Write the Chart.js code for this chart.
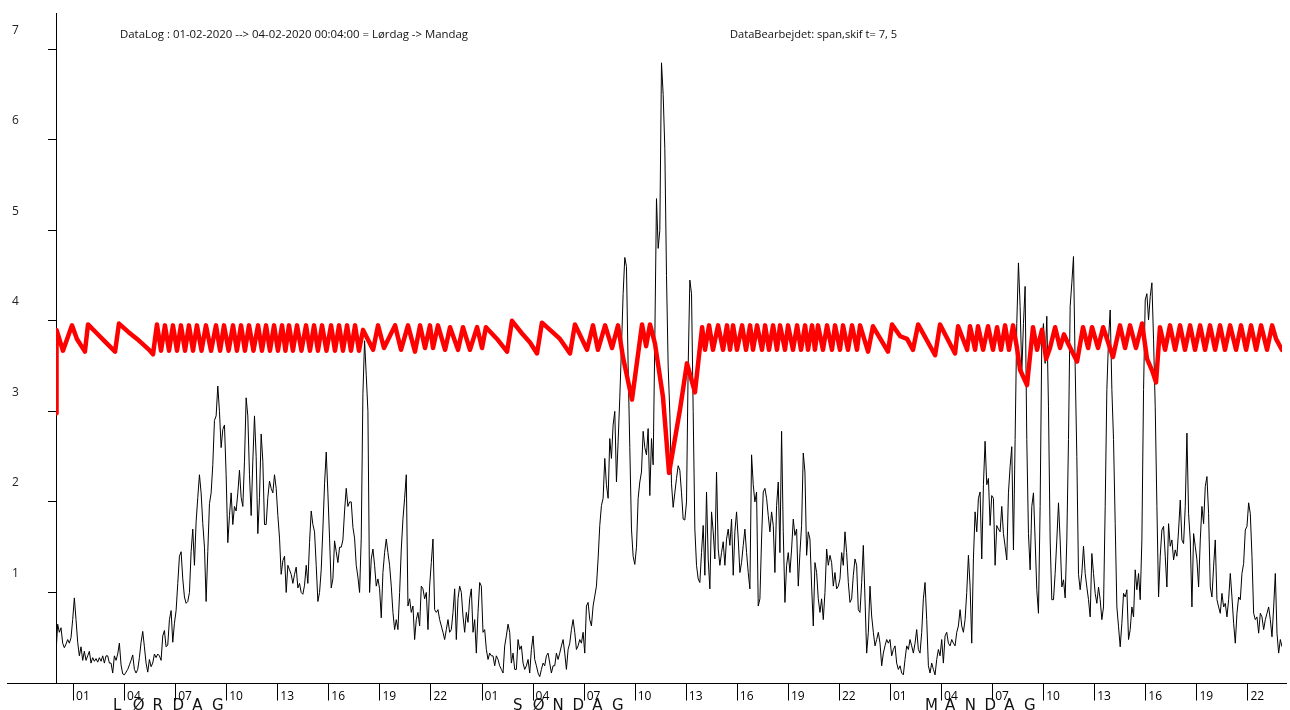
<!DOCTYPE html>
<html><head><meta charset="utf-8">
<script src="https://cdn.jsdelivr.net/npm/chart.js@4.4.0/dist/chart.umd.min.js"></script>
<style>html,body{margin:0;padding:0;background:#fff;overflow:hidden}</style>
</head><body>
<canvas id="c" width="1290" height="710"></canvas>
<script>
// ---------- texts ----------
const titleLeft = 'DataLog : 01-02-2020 --> 04-02-2020 00:04:00 = Lørdag -> Mandag';
const titleRight = 'DataBearbejdet: span,skif t= 7, 5';
const dayNames = ['LØRDAG', 'SØNDAG', 'MANDAG'];
const dayNameHours = [3.35, 26.85, 51.06];

// ---------- ticks ----------
const xTickHours = [1,4,7,10,13,16,19,22,25,28,31,34,37,40,43,46,49,52,55,58,61,64,67,70];
const xTickLabels = ['01','04','07','10','13','16','19','22','01','04','07','10','13','16','19','22','01','04','07','10','13','16','19','22'];
const yTickValues = [1,2,3,4,5,6,7];
const xMaxHours = 72.03;
const yMaxValue = 7.4;

// ---------- black series (uniform samples, hours = index * step) ----------
const loadStepHours = 0.098;
const loadPart1 = [
0.33,0.65,0.56,0.61,0.44,0.39,0.43,0.48,0.44,0.50,
0.70,0.94,0.70,0.45,0.30,0.40,0.25,0.35,0.25,0.30,
0.35,0.22,0.28,0.24,0.27,0.23,0.28,0.24,0.30,0.22,
0.30,0.30,0.22,0.22,0.11,0.30,0.25,0.32,0.44,0.20,
0.10,0.09,0.12,0.15,0.20,0.25,0.31,0.15,0.11,0.15,
0.28,0.45,0.57,0.40,0.22,0.12,0.26,0.18,0.22,0.32,
0.28,0.32,0.30,0.25,0.52,0.58,0.40,0.42,0.70,0.80,
0.45,0.66,0.80,1.10,1.40,1.45,1.15,0.95,0.88,0.90,
1.00,1.45,1.70,1.30,1.78,2.05,2.30,2.10,1.76,1.50,
0.90,1.45,1.98,2.10,2.41,2.90,2.95,3.28,3.00,2.60,
2.80,2.85,2.30,1.55,1.85,2.10,1.75,1.95,1.90,2.10,
2.35,2.05,1.95,2.45,3.15,2.95,2.30,1.85,2.45,2.95,
2.50,1.65,2.05,2.75,2.45,1.75,1.75,2.05,2.23,2.15,
2.10,2.30,2.15,1.85,1.60,1.20,1.35,1.40,1.00,1.30,
1.25,1.20,1.10,1.20,1.28,1.05,1.10,1.00,0.98,1.08,
1.30,1.10,1.55,1.90,1.75,1.67,1.30,0.90,1.00,1.25,
1.70,2.20,2.55,2.10,1.60,1.05,1.15,1.57,1.45,1.33,
1.50,1.50,1.58,1.90,2.15,1.95,2.00,2.00,1.72,1.60,
1.30,1.17,1.00,1.60,3.20,3.78,3.40,3.00];
const loadPart2 = [
1.00,1.37,1.48,1.30,1.07,1.15,1.04,0.72,1.22,1.44,
1.59,1.44,1.30,1.07,0.78,0.59,0.70,0.59,1.00,1.48,
1.81,2.04,2.30,0.85,0.93,0.78,0.85,0.48,0.70,0.78,
0.63,1.07,1.04,0.93,1.00,0.59,1.07,1.33,1.59,0.81,
0.78,0.81,0.70,0.63,0.56,0.48,0.59,0.70,0.56,0.59,
0.78,1.04,0.48,0.93,1.07,1.00,0.74,0.56,0.78,0.67,
0.93,1.04,0.56,0.70,0.33,0.78,1.11,1.07,0.56,0.59,
0.37,0.26,0.33,0.30,0.30,0.19,0.30,0.26,0.19,0.15,
0.11,0.41,0.52,0.65,0.56,0.22,0.33,0.15,0.15,0.48,
0.37,0.41,0.22,0.15,0.19,0.26,0.11,0.37,0.52,0.26,
0.19,0.11,0.07,0.15,0.22,0.19,0.30,0.33,0.22,0.11,
0.19,0.19,0.33,0.26,0.33,0.41,0.48,0.33,0.15,0.37,
0.44,0.59,0.70,0.56,0.37,0.41,0.48,0.44,0.56,0.33,
0.85,0.89,0.70,0.63,0.85,0.96,1.07,1.37,1.74,1.96,
2.04,2.48,2.19,2.04,2.70,2.48,2.85,3.00,2.22,2.67,
3.15,3.70,4.30,4.70,4.60,3.50,2.60,1.70,1.40,1.31,
1.50,2.04,2.22,2.33,2.78,2.60,2.52,2.81,2.07,2.70,
2.41,3.80,5.35,4.80,5.00,6.85,6.50,5.90,4.50,3.50,
2.98,2.20,1.94,2.10,2.26,2.40,2.35,2.10,1.81];
const loadPart3 = [
1.80,2.00,3.50,4.45,4.30,3.00,1.70,1.30,1.15,1.11,
1.44,1.74,1.19,2.11,1.37,1.04,1.89,1.67,1.37,2.33,
1.48,1.30,1.44,1.56,1.30,1.59,1.70,1.52,1.81,1.19,
1.67,1.89,1.59,1.22,1.33,1.52,1.70,1.44,1.22,1.04,
2.52,2.19,2.00,2.11,0.85,0.93,1.59,2.11,2.15,2.04,
1.85,1.67,1.89,1.74,1.22,1.96,2.22,1.44,2.78,1.67,
0.89,1.30,1.44,1.22,1.48,1.81,1.63,1.70,1.07,1.44,
1.74,2.54,2.33,1.41,1.67,1.59,1.07,0.63,1.33,1.22,
0.93,0.78,0.93,0.70,1.00,1.48,1.30,1.41,1.33,1.07,
1.22,1.04,1.07,1.15,1.44,1.30,1.67,1.44,1.11,0.89,
0.93,1.19,1.37,1.30,0.81,0.78,1.11,1.52,0.93,0.33,
0.56,1.07,0.74,0.56,0.41,0.48,0.56,0.44,0.19,0.33,
0.41,0.48,0.44,0.48,0.30,0.37,0.41,0.22,0.15,0.19,
0.11,0.09,0.26,0.41,0.37,0.48,0.41,0.33,0.44,0.59,
0.37,0.33,0.56,0.93,1.11,0.70,0.19,0.11,0.22,0.15,
0.09,0.26,0.37,0.30,0.48,0.22,0.52,0.56,0.44,0.41,
0.48,0.44,0.41,0.56,0.63,0.81,0.63,0.56,0.70,1.00,
1.41,1.07,0.44,1.37,1.89,1.67,2.04,2.11,1.37,2.19,
2.67,2.19,2.26,1.74,2.07,2.04,1.30,1.74,1.70,1.67];
const loadPart4 = [
1.95,1.65,1.51,1.36,2.10,2.39,2.61,1.47,2.69,3.97,
4.64,4.16,3.43,3.97,4.38,2.69,1.65,1.25,1.95,2.10,
1.58,1.03,0.77,1.95,3.79,3.97,3.53,4.05,3.05,1.58,
0.92,0.92,1.21,1.58,1.99,1.58,1.06,1.14,0.94,1.58,
2.69,4.16,4.42,4.71,3.50,2.50,1.20,1.03,1.21,1.51,
1.21,1.06,0.92,0.73,1.43,1.21,0.99,0.88,1.06,0.92,
0.70,0.84,1.95,3.24,3.79,4.12,3.24,2.69,1.76,0.84,
0.62,0.40,0.66,0.99,0.95,1.03,0.48,0.59,0.84,0.73,
1.25,1.03,1.21,0.92,1.58,3.24,4.23,4.30,4.01,4.27,
4.42,3.79,3.05,1.95,0.95,1.40,1.69,1.73,1.40,1.06,
1.76,1.51,1.58,1.36,1.47,1.40,1.69,2.02,1.58,1.54,
1.95,2.76,1.87,1.58,0.84,1.65,1.51,1.36,1.06,1.58,
1.95,1.76,2.17,2.28,1.87,1.06,0.95,1.29,1.58,0.92,
0.84,0.77,0.99,0.84,0.88,0.73,0.92,1.21,0.95,0.66,
0.44,0.77,0.95,0.92,1.21,1.32,1.69,1.73,1.99,1.87,
1.40,0.77,0.70,0.73,0.55,0.77,0.73,0.59,0.70,0.77,
0.84,0.70,0.51,0.84,1.21,0.55,0.33,0.48,0.40];

// ---------- red series (turning points) ----------
const redHours = [
0.00,0.03,0.41,0.94,1.23,1.70,1.88,2.41,2.94,3.47,3.70,4.23,4.76,5.23,5.52,5.70,5.93,
6.17,6.40,6.64,6.87,7.11,7.34,7.58,7.81,8.05,8.28,8.55,8.81,9.11,9.40,9.64,9.87,10.14,10.40,10.63,10.87,11.10,11.34,11.60,11.87,12.10,12.34,12.57,12.81,13.04,13.28,13.48,13.69,13.92,14.16,14.42,14.69,14.92,15.16,15.39,15.63,15.89,16.16,16.39,16.63,16.86,17.10,17.33,17.57,17.80,18.04,
18.63,18.92,19.27,19.92,20.27,20.68,21.09,21.39,21.68,21.97,22.15,22.44,22.86,23.15,23.62,23.91,24.32,24.74,25.03,25.26,25.91,26.50,26.79,27.38,27.85,28.26,28.55,29.14,29.61,30.20,30.49,31.20,31.55,31.84,32.26,32.67,33.02,33.31,33.84,34.43,34.67,34.90,35.19,35.66,36.02,36.66,37.07,37.54,37.96,
38.13,38.37,38.60,38.90,39.19,39.42,39.60,39.78,40.01,40.31,40.54,40.78,40.95,41.19,41.48,41.66,41.89,42.13,42.36,42.54,42.83,43.01,43.30,43.54,43.77,44.01,44.18,44.42,44.59,44.77,45.06,45.30,45.59,45.77,46.06,46.24,46.53,46.77,47.06,47.24,47.71,48.00,48.88,49.12,49.60,50.00,50.35,50.65,51.65,51.94,52.82,53.00,53.53,53.70,54.00,54.17,54.47,54.76,55.05,55.29,
55.52,55.76,55.99,56.23,56.46,56.64,57.05,57.40,57.64,57.93,58.17,58.40,58.70,58.99,59.22,59.46,59.99,60.34,60.64,60.87,61.22,61.52,62.10,62.51,62.81,63.10,63.45,63.81,64.10,64.40,64.63,64.86,65.16,65.45,65.75,66.04,66.33,66.63,66.92,67.22,67.51,67.80,68.10,68.39,68.68,68.98,69.33,69.62,69.92,70.21,70.51,70.80,71.15,71.45,71.68,72.03];
const redValues = [
2.98,3.90,3.67,3.95,3.80,3.66,3.96,3.86,3.76,3.66,3.97,3.88,3.80,3.72,3.67,3.63,3.96,
3.67,3.95,3.67,3.95,3.67,3.95,3.67,3.95,3.67,3.95,3.67,3.95,3.67,3.95,3.67,3.95,3.67,3.95,3.67,3.95,3.67,3.95,3.67,3.95,3.67,3.95,3.67,3.95,3.67,3.95,3.67,3.95,3.67,3.95,3.67,3.95,3.67,3.95,3.67,3.95,3.67,3.95,3.67,3.95,3.67,3.95,3.67,3.95,3.67,3.90,
3.68,3.95,3.70,3.95,3.68,3.95,3.66,3.95,3.70,3.95,3.70,3.95,3.68,3.93,3.68,3.93,3.68,3.93,3.70,3.93,3.80,3.66,4.00,3.86,3.76,3.64,3.98,3.88,3.80,3.64,3.96,3.68,3.95,3.68,3.95,3.70,3.95,3.60,3.13,3.96,3.72,3.96,3.75,3.16,2.32,3.02,3.53,3.21,3.93,
3.68,3.95,3.68,3.95,3.68,3.95,3.68,3.95,3.68,3.95,3.68,3.95,3.68,3.95,3.68,3.95,3.68,3.95,3.68,3.95,3.68,3.95,3.68,3.95,3.68,3.95,3.68,3.95,3.68,3.95,3.68,3.95,3.68,3.95,3.68,3.95,3.68,3.95,3.68,3.95,3.66,3.94,3.66,3.96,3.83,3.80,3.68,3.96,3.62,3.96,3.64,3.94,3.68,3.94,3.68,3.94,3.68,3.94,3.68,3.93,
3.68,3.95,3.68,3.95,3.70,3.46,3.29,3.93,3.68,3.90,3.58,3.70,3.93,3.70,3.85,3.75,3.55,3.93,3.70,3.93,3.70,3.93,3.60,3.95,3.70,3.95,3.70,3.97,3.58,3.45,3.32,3.93,3.68,3.95,3.68,3.95,3.68,3.95,3.68,3.95,3.68,3.95,3.68,3.95,3.68,3.95,3.68,3.95,3.68,3.95,3.68,3.95,3.68,3.95,3.80,3.68];

// ---------- build ----------
const loadValues = [].concat(loadPart1, loadPart2, loadPart3, loadPart4);
const blackData = loadValues.map((v, i) => ({ x: i * loadStepHours, y: v }));
const redData = redHours.map((h, i) => ({ x: h, y: redValues[i] }));

const decor = {
  id: 'decor',
  afterDraw(chart) {
    const ctx = chart.ctx;
    const xs = chart.scales.x, ys = chart.scales.y;
    ctx.save();
    const y0 = Math.round(ys.getPixelForValue(0)) + 0.5;
    ctx.strokeStyle = '#000';
    ctx.lineWidth = 1;
    ctx.beginPath();
    ctx.moveTo(7, y0);
    ctx.lineTo(1287, y0);
    // x tick marks hanging below the axis, at the scale's own ticks
    xs.ticks.forEach(t => {
      const px = Math.round(xs.getPixelForValue(t.value)) + 0.5;
      ctx.moveTo(px, y0);
      ctx.lineTo(px, y0 + 17);
    });
    ctx.stroke();
    ctx.fillStyle = '#111';
    ctx.font = '11.4px "Open Sans"';
    ctx.textBaseline = 'middle';
    ctx.textAlign = 'left';
    ctx.fillText(titleLeft, 120, 35);
    ctx.font = '11.1px "Open Sans"';
    ctx.fillText(titleRight, 730, 35);
    ctx.font = '15px "DejaVu Sans"';
    ctx.textBaseline = 'alphabetic';
    dayNames.forEach((name, d) => {
      let x = xs.getPixelForValue(dayNameHours[d]);
      for (const ch of name) {
        ctx.fillText(ch, x, 710);
        x += 19.8;
      }
    });
    ctx.restore();
  }
};

new Chart(document.getElementById('c'), {
  type: 'line',
  data: {
    datasets: [
      { data: redData, borderColor: '#ff0000', borderWidth: 4.5, pointRadius: 0, tension: 0,
        borderJoinStyle: 'round', borderCapStyle: 'round', fill: false },
      { data: blackData, borderColor: '#000000', borderWidth: 1, pointRadius: 0, tension: 0, fill: false }
    ]
  },
  options: {
    responsive: false,
    animation: false,
    devicePixelRatio: 1,
    layout: { padding: { top: 13, right: 8, left: 12, bottom: 0 } },
    plugins: { legend: { display: false }, tooltip: { enabled: false }, title: { display: false } },
    scales: {
      x: {
        type: 'linear', min: 0, max: xMaxHours,
        border: { display: false },
        grid: { display: false, drawTicks: false },
        ticks: {
          autoSkip: false, maxRotation: 0, minRotation: 0, align: 'start', labelOffset: 3, padding: 6,
          color: '#000', font: { family: 'Open Sans', size: 12 },
          callback: (v, i) => xTickLabels[i]
        },
        afterBuildTicks: s => { s.ticks = xTickHours.map(v => ({ value: v })); },
        afterFit: s => { s.height = 27; }
      },
      y: {
        type: 'linear', min: 0, max: yMaxValue,
        border: { display: true, color: '#000', width: 1 },
        grid: { display: true, drawOnChartArea: false, drawTicks: true, tickLength: 8, color: '#000', lineWidth: 1 },
        ticks: {
          padding: 2, crossAlign: 'far', labelOffset: -19, color: '#222', font: { family: 'Open Sans', size: 12 },
          callback: v => String(v)
        },
        afterBuildTicks: s => { s.ticks = yTickValues.map(v => ({ value: v })); },
        afterFit: s => { s.width = 44; }
      }
    }
  },
  plugins: [decor]
});
</script>
</body></html>
